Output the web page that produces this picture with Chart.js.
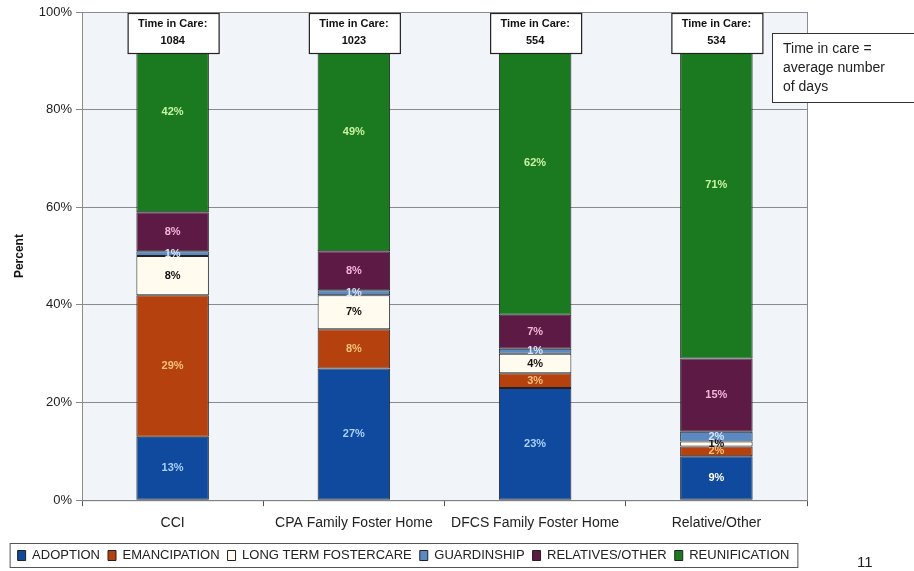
<!DOCTYPE html>
<html lang="en">
<head>
    <meta charset="UTF-8">
    <title>Time in Care by Placement Type</title>
    <script src="https://cdn.jsdelivr.net/npm/chart.js"></script>
    <style>
        body {
            margin: 0;
            padding: 0;
            background: #ffffff;
        }
        #chartContainer {
            width: 914px;
            height: 571px;
        }
    </style>
</head>
<body>
    <div id="chartContainer">
        <canvas id="careChart"></canvas>
    </div>

    <script>
        // Chart values
        const categories = ['CCI', 'CPA Family Foster Home', 'DFCS Family Foster Home', 'Relative/Other'];
        const timeInCare = [1084, 1023, 554, 534];
        const adoption = [13, 27, 23, 9];
        const emancipation = [29, 8, 3, 2];
        const longTermFostercare = [8, 7, 4, 1];
        const guardianship = [1, 1, 1, 2];
        const relativesOther = [8, 8, 7, 15];
        const reunification = [42, 49, 62, 71];
        const seriesNames = ['ADOPTION', 'EMANCIPATION', 'LONG TERM FOSTERCARE', 'GUARDINSHIP', 'RELATIVES/OTHER', 'REUNIFICATION'];

        const seriesColors = ['#0f4a9e', '#b4410e', '#fffbee', '#5b89c2', '#5c1a44', '#1b7a20'];
        const labelColors = ['#a9d0ff', '#f6c27c', '#111111', '#d5e4ff', '#f3b5da', '#c9f2a2'];

        const seriesValues = [adoption, emancipation, longTermFostercare, guardianship, relativesOther, reunification];

        const ctx = document.getElementById('careChart').getContext('2d');

        // plot background and border
        const plotBackground = {
            id: 'plotBackground',
            beforeDraw(chart) {
                const a = chart.chartArea;
                const c = chart.ctx;
                c.save();
                c.fillStyle = '#f1f5fa';
                c.fillRect(a.left, a.top, a.right - a.left, a.bottom - a.top);
                c.restore();
            },
            afterDatasetsDraw(chart) {
                const a = chart.chartArea;
                const c = chart.ctx;
                c.save();
                c.strokeStyle = '#8c8c8c';
                c.lineWidth = 1;
                c.strokeRect(a.left + 0.5, a.top + 0.5, a.right - a.left, a.bottom - a.top);
                c.restore();
            }
        };

        // legend takes a bit less height than Chart.js gives it
        const tightLegend = {
            id: 'tightLegend',
            beforeLayout(chart) {
                const lg = chart.legend;
                if (lg && !lg._tight) {
                    const fit = lg.fit;
                    lg.fit = function () {
                        fit.call(this);
                        this.height -= 5;
                    };
                    lg._tight = true;
                }
            }
        };

        // percent labels inside every segment
        const segmentLabels = {
            id: 'segmentLabels',
            afterDatasetsDraw(chart) {
                const c = chart.ctx;
                c.save();
                c.font = 'bold 11px Arial';
                c.textAlign = 'center';
                c.textBaseline = 'middle';
                chart.data.datasets.forEach((ds, i) => {
                    const meta = chart.getDatasetMeta(i);
                    meta.data.forEach((bar, j) => {
                        const v = ds.data[j];
                        let color = labelColors[i];
                        if (i === 0 && v < 10) color = '#ffffff';
                        c.fillStyle = color;
                        const top = Math.max(bar.y, chart.chartArea.top);
                        c.fillText(v + '%', bar.x, (top + bar.base) / 2);
                    });
                });
                c.restore();
            }
        };

        // "Time in Care" boxes, note box, legend frame and page number
        const annotations = {
            id: 'annotations',
            afterDraw(chart) {
                const c = chart.ctx;
                const xs = chart.scales.x;
                const top = chart.chartArea.top;
                c.save();
                categories.forEach((cat, i) => {
                    const cx = xs.getPixelForValue(i);
                    c.fillStyle = '#ffffff';
                    c.fillRect(cx - 45, top + 1, 91, 40);
                    c.strokeStyle = '#222222';
                    c.lineWidth = 1.2;
                    c.strokeRect(cx - 45 + 0.5, top + 1.5, 91, 40);
                    c.fillStyle = '#111111';
                    c.font = 'bold 11px Arial';
                    c.textAlign = 'center';
                    c.textBaseline = 'middle';
                    c.fillText('Time in Care:', cx, top + 12);
                    c.fillText(String(timeInCare[i]), cx, top + 29);
                });

                // note box
                c.fillStyle = '#ffffff';
                c.fillRect(772, 33, 150, 69);
                c.strokeStyle = '#333333';
                c.lineWidth = 1;
                c.strokeRect(772.5, 33.5, 150, 69);
                c.fillStyle = '#222222';
                c.font = '14px Arial';
                c.textAlign = 'left';
                c.textBaseline = 'middle';
                c.fillText('Time in care =', 783, 49);
                c.fillText('average number', 783, 68);
                c.fillText('of days', 783, 87);

                // legend frame
                const boxes = chart.legend.legendHitBoxes;
                if (boxes && boxes.length) {
                    const l = Math.min(...boxes.map(b => b.left)) - 8;
                    const r = Math.max(...boxes.map(b => b.left + b.width)) + 8;
                    const t = Math.min(...boxes.map(b => b.top)) - 6;
                    const btm = Math.max(...boxes.map(b => b.top + b.height)) + 5;
                    c.strokeStyle = '#555555';
                    c.strokeRect(l + 0.5, t + 0.5, r - l, btm - t);
                }

                // page number
                c.fillStyle = '#222222';
                c.font = '15px Arial';
                c.textAlign = 'left';
                c.fillText('11', 857, 563);
                c.restore();
            }
        };

        const datasets = seriesNames.map((name, i) => ({
            label: name,
            data: seriesValues[i],
            backgroundColor: seriesColors[i],
            borderColor: '#222222',
            borderWidth: 1,
            borderSkipped: false,
            barPercentage: 0.4,
            categoryPercentage: 1.0
        }));

        new Chart(ctx, {
            type: 'bar',
            data: {
                labels: categories,
                datasets: datasets
            },
            plugins: [tightLegend, plotBackground, segmentLabels, annotations],
            options: {
                responsive: true,
                maintainAspectRatio: false,
                animation: false,
                layout: {
                    padding: { top: 12, right: 107, bottom: 4, left: 0 }
                },
                plugins: {
                    legend: {
                        position: 'bottom',
                        labels: {
                            boxWidth: 8,
                            boxHeight: 10,
                            padding: 8,
                            color: '#222222',
                            font: { family: 'Arial', size: 13 }
                        }
                    },
                    tooltip: { enabled: false }
                },
                scales: {
                    x: {
                        stacked: true,
                        grid: {
                            offset: true,
                            drawOnChartArea: false,
                            tickLength: 6,
                            color: '#555555'
                        },
                        border: { color: '#555555' },
                        ticks: {
                            color: '#222222',
                            padding: 9,
                            maxRotation: 0,
                            autoSkip: false,
                            font: { family: 'Arial', size: 14 }
                        }
                    },
                    y: {
                        stacked: true,
                        min: 0,
                        max: 100,
                        afterFit(scale) { scale.width = 82; },
                        ticks: {
                            stepSize: 20,
                            color: '#222222',
                            padding: 4,
                            font: { family: 'Arial', size: 13 },
                            callback: v => v + '%'
                        },
                        grid: {
                            color: '#8a8a8a',
                            tickLength: 6
                        },
                        border: { color: '#333333' },
                        title: {
                            display: true,
                            text: 'Percent',
                            color: '#111111',
                            padding: { top: 12, bottom: 0 },
                            font: { family: 'Arial', size: 12, weight: 'bold' }
                        }
                    }
                }
            }
        });
    </script>
</body>
</html>
